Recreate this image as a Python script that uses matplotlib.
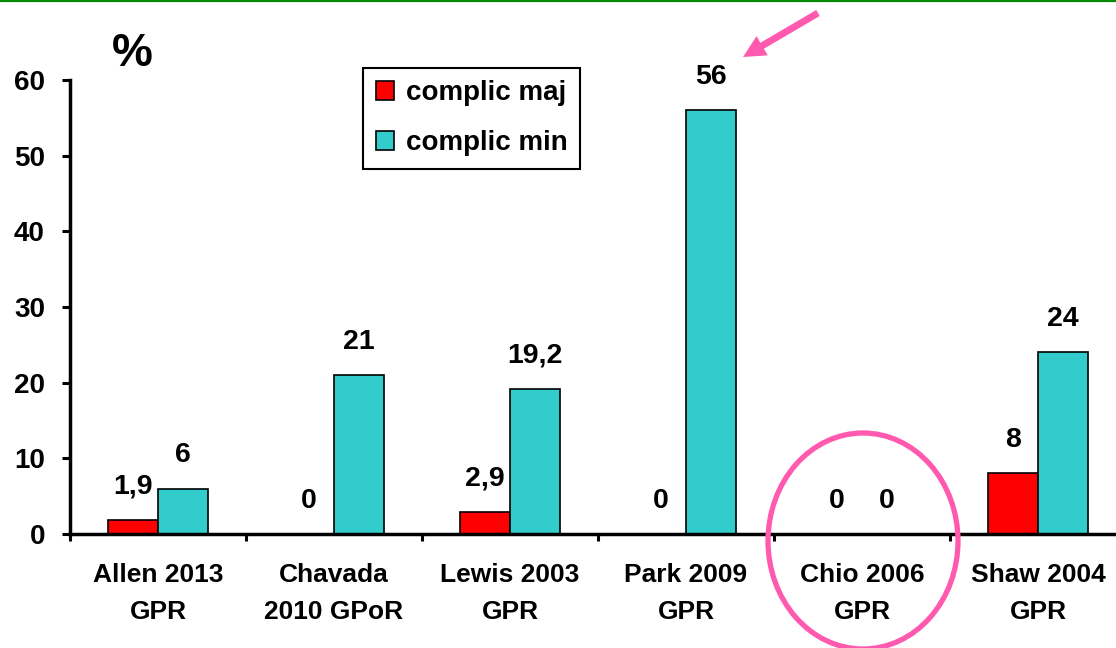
import numpy as np
import matplotlib
matplotlib.use('Agg')
import matplotlib.pyplot as plt
from matplotlib.patches import Ellipse, FancyArrowPatch
from matplotlib.lines import Line2D

plt.rcParams['font.family'] = ['Liberation Sans', 'DejaVu Sans']
plt.rcParams['font.weight'] = 'bold'

studies = ['Allen 2013\nGPR', 'Chavada\n2010 GPoR', 'Lewis 2003\nGPR',
           'Park 2009\nGPR', 'Chio 2006\nGPR', 'Shaw 2004\nGPR']
major = [1.9, 0, 2.9, 0, 0, 8]
minor = [6, 21, 19.2, 56, 0, 24]
major_txt = ['1,9', '0', '2,9', '0', '0', '8']
minor_txt = ['6', '21', '19,2', '56', '0', '24']

RED = '#FF0000'
CYAN = '#33CCCC'
PINK = '#FF5AB0'

fig = plt.figure(figsize=(11.16, 6.48), dpi=100)
ax = fig.add_axes([70 / 1116, 114 / 648, 1056 / 1116, 454 / 648])

x = np.arange(len(studies)) + 0.5
w = 0.285
ax.bar(x - w / 2, major, w, color=RED, edgecolor='black', linewidth=1.2,
       label='complic maj')
ax.bar(x + w / 2, minor, w, color=CYAN, edgecolor='black', linewidth=1.2,
       label='complic min')

# value labels above each bar
for xs, vals, txts in [(x - w / 2, major, major_txt), (x + w / 2, minor, minor_txt)]:
    for xi, v, t in zip(xs, vals, txts):
        ax.annotate(t, (xi, v), xytext=(0, 19), textcoords='offset points',
                    ha='center', va='baseline', fontsize=20.5, fontweight='bold')

ax.set_xlim(0, len(studies))
ax.set_ylim(0, 60)
ax.set_yticks(range(0, 61, 10))
ax.set_xticks(np.arange(len(studies) + 1))
ax.set_xticklabels([])
ax.set_xticks(x, studies, minor=True)

ax.tick_params(axis='y', direction='out', length=6, width=2.2, pad=12,
               labelsize=20)
ax.tick_params(axis='x', which='major', direction='out', length=5, width=2.2)
ax.tick_params(axis='x', which='minor', length=0, pad=21, labelsize=19)
for lab in ax.get_xticklabels(minor=True):
    lab.set_linespacing(1.7)
for lab in ax.get_yticklabels():
    lab.set_fontweight('bold')

for side in ['top', 'right']:
    ax.spines[side].set_visible(False)
for side in ['left', 'bottom']:
    ax.spines[side].set_linewidth(2.5)

leg = ax.legend(loc='upper left', bbox_to_anchor=(363 / 1116, 1 - 68 / 648),
                bbox_transform=fig.transFigure, borderaxespad=0,
                prop={'size': 20, 'weight': 'bold'}, fancybox=False,
                framealpha=1, edgecolor='black', handlelength=0.65,
                handleheight=0.65, handletextpad=0.45, labelspacing=0.86,
                borderpad=0.45)
leg.get_frame().set_linewidth(1.5)

fig.text(132 / 1116, 1 - 54 / 648, '%', ha='center', va='center',
         fontsize=33, fontweight='bold')

# green rule at the top edge
fig.add_artist(Line2D([0, 1], [1 - 1 / 648, 1 - 1 / 648], color='#008A00',
                      linewidth=1.6, transform=fig.transFigure))

# pink arrow pointing at the 56 value
arrow = FancyArrowPatch((818, 648 - 13), (743, 648 - 57), transform=None,
                        arrowstyle='simple,head_length=16,head_width=16,tail_width=5',
                        mutation_scale=1, color=PINK, linewidth=0,
                        shrinkA=0, shrinkB=0)
fig.add_artist(arrow)

# pink ring around the Chio group
ring = Ellipse((863 / 1116, 1 - 541 / 648), 190 / 1116, 216 / 648,
               transform=fig.transFigure, fill=False, edgecolor=PINK,
               linewidth=3.8, clip_on=False)
fig.add_artist(ring)

fig.savefig('out.png', dpi=100)
